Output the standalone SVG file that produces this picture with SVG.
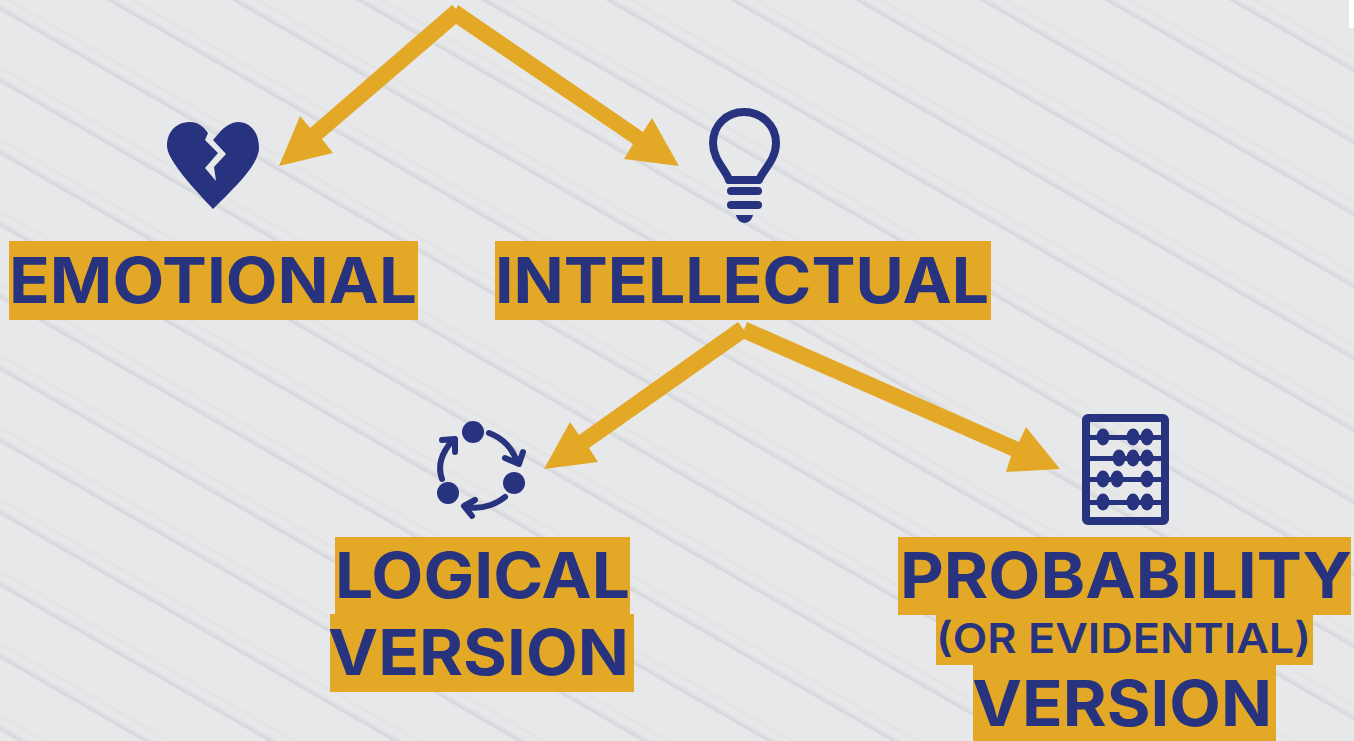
<svg xmlns="http://www.w3.org/2000/svg" width="1354" height="741" viewBox="0 0 1354 741">
<style>
.lbl{fill:#e3a826}
.t{fill:#27337f;font-family:"Inter","Liberation Sans",sans-serif;font-weight:700;font-size:63px}
.s{font-size:41px;font-weight:600}
.arrow{fill:#e3a826}
.ic{fill:#27337f}
.ln{fill:none;stroke:#27337f;stroke-linecap:round;stroke-linejoin:round}
</style>
<defs>
<linearGradient id="sh" x1="0" y1="0" x2="0" y2="1">
<stop offset="0" stop-color="#e7e8ea"/>
<stop offset="0.55" stop-color="#dcdde0"/>
<stop offset="0.72" stop-color="#d3d4d7"/>
<stop offset="1" stop-color="#e7e8ea"/>
</linearGradient>
<linearGradient id="soft" x1="0" y1="0" x2="0" y2="1">
<stop offset="0" stop-color="#e7e8ea"/>
<stop offset="0.5" stop-color="#e2e3e5"/>
<stop offset="1" stop-color="#e7e8ea"/>
</linearGradient>
<pattern id="stripes" width="200" height="62.35" patternUnits="userSpaceOnUse" patternTransform="translate(1100 -4) rotate(30)">
<rect width="200" height="62.35" fill="#e7e8ea"/>
<rect y="-5" width="200" height="7" fill="url(#sh)"/>
<rect y="57.35" width="200" height="7" fill="url(#sh)"/>
<rect y="48" width="200" height="5" fill="url(#soft)"/>
</pattern>
</defs>
<rect id="background" width="1354" height="741" fill="url(#stripes)"/>
<rect x="1349" y="0" width="5" height="28" fill="#fff"/>
<g id="connectors">
<polygon class="arrow" points="452,5 456,9 456,24 322,139 333,153 279,166 300,116 310,128"/>
<polygon class="arrow" points="458,5 643,132 652,118 679,166 624,159 633,144 456,24 456,9"/>
<polygon class="arrow" points="738,322 744,330 744,339 589,448 598,462 544,469 570,422 579,435"/>
<polygon class="arrow" points="747,322 1019,442 1026,427 1060,469 1006,472 1011,456 744,339 744,330"/>
</g>
<g id="node-emotional">
<path class="ic" fill-rule="evenodd" d="M213,209 C195,190 167,160 167,146 C167,130 178,122 190,122 C198,122 203,126 208,133 L205,140 L218,153 L205,168 L216,181 L214,167 L226,154 L213,140 L219,133 C225,126 232,122 238,122 C250,122 259,132 259,148 C259,165 232,190 213,209 Z"/>
<rect class="lbl" x="9" y="241" width="409" height="79"/>
<text class="t" x="9" y="303" textLength="408" lengthAdjust="spacingAndGlyphs">EMOTIONAL</text>
</g>
<g id="node-intellectual">
<path class="ln" stroke-width="8" d="M729,180 C726,170 713,160 713,143 C713,125 727,112 744,112 C761,112 776,125 776,143 C776,160 763,170 759,180 Z"/>
<rect class="ic" x="727" y="187" width="35" height="8" rx="4"/>
<rect class="ic" x="727" y="201" width="35" height="8" rx="4"/>
<path class="ic" d="M736,215 H753 C752,220 748,223 744.500,223 C741,223 737,220 736,215 Z"/>
<rect class="lbl" x="495" y="241" width="496" height="79"/>
<text class="t" x="495" y="303" textLength="494" lengthAdjust="spacingAndGlyphs">INTELLECTUAL</text>
</g>
<g id="node-logical">
<circle class="ic" cx="473" cy="432" r="11"/>
<circle class="ic" cx="514" cy="483" r="11"/>
<circle class="ic" cx="448" cy="493" r="11"/>
<path class="ln" stroke-width="6" d="M489,433 C503,438 513,449 517,462 M505,458 L519,464 L523,452"/>
<path class="ln" stroke-width="6" d="M505,497 C494,506 479,509 465,507 M472,516 L464,506 L475,500"/>
<path class="ln" stroke-width="6" d="M442,479 C437,465 443,451 453,440 M442,440 L455,439 L455,452"/>
<rect class="lbl" x="335" y="537" width="295" height="77"/>
<rect class="lbl" x="330" y="614" width="304" height="78"/>
<text class="t" x="335" y="598" textLength="295" lengthAdjust="spacingAndGlyphs">LOGICAL</text>
<text class="t" x="328" y="675" textLength="301" lengthAdjust="spacingAndGlyphs">VERSION</text>
</g>
<g id="node-probability">
<rect x="1086" y="418" width="79" height="103" rx="2" fill="none" stroke="#27337f" stroke-width="8"/>
<g class="ic">
<rect x="1088" y="435" width="75" height="5"/><rect x="1088" y="456" width="75" height="5"/><rect x="1088" y="477" width="75" height="5"/><rect x="1088" y="500" width="75" height="5"/>
<ellipse cx="1103" cy="437" rx="6.500" ry="8.500"/><ellipse cx="1133" cy="437" rx="6.500" ry="8.500"/><ellipse cx="1147" cy="437" rx="6.500" ry="8.500"/>
<ellipse cx="1119" cy="458" rx="6.500" ry="8.500"/><ellipse cx="1133" cy="458" rx="6.500" ry="8.500"/><ellipse cx="1147" cy="458" rx="6.500" ry="8.500"/>
<ellipse cx="1103" cy="479" rx="6.500" ry="8.500"/><ellipse cx="1117" cy="479" rx="6.500" ry="8.500"/><ellipse cx="1147" cy="479" rx="6.500" ry="8.500"/>
<ellipse cx="1103" cy="502" rx="6.500" ry="8.500"/><ellipse cx="1133" cy="502" rx="6.500" ry="8.500"/><ellipse cx="1147" cy="502" rx="6.500" ry="8.500"/>
</g>
<rect class="lbl" x="898" y="537" width="453" height="78"/>
<rect class="lbl" x="936" y="615" width="377" height="50"/>
<rect class="lbl" x="973" y="665" width="303" height="76"/>
<text class="t" x="900" y="598" textLength="452" lengthAdjust="spacingAndGlyphs">PROBABILITY</text>
<text class="t s" x="936" y="653" textLength="375" lengthAdjust="spacingAndGlyphs">(OR EVIDENTIAL)</text>
<text class="t" x="972" y="726" textLength="300" lengthAdjust="spacingAndGlyphs">VERSION</text>
</g>
</svg>
